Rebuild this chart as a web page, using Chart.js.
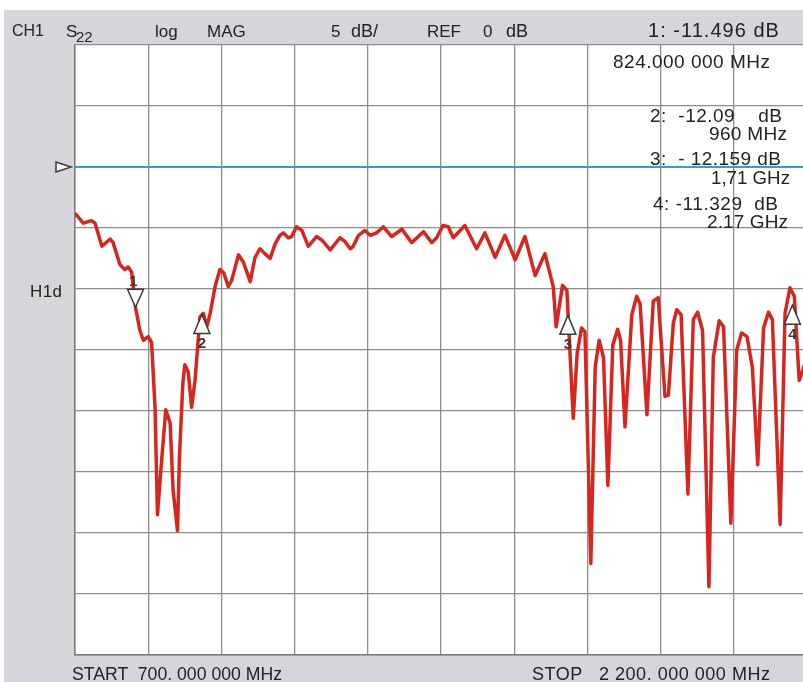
<!DOCTYPE html>
<html>
<head>
<meta charset="utf-8">
<title>S22 log MAG</title>
<script src="https://cdn.jsdelivr.net/npm/chart.js@4.4.1/dist/chart.umd.min.js"></script>
<style>
  html, body { margin: 0; padding: 0; background: #fff; overflow: hidden; width: 803px; height: 682px; }
  #panel { position: absolute; left: 4px; top: 10px; width: 810px; height: 672px; background: #d8d5da; }
  #wrap { position: absolute; left: 0; top: 0; width: 812px; height: 682px; }
  .lbl { position: absolute; font-family: "Liberation Sans", Arial, sans-serif; color: #222;
         white-space: pre; line-height: 1; transform-origin: 0 0; }
</style>
</head>
<body>
<div id="panel"></div>
<div id="wrap"><canvas id="grafico" width="812" height="682"></canvas></div>
<div id="labels"></div>
<script>
// Barrido: frecuencia (MHz) y S22 (dB)
const freqMHz = [700, 717, 734, 741, 755, 772, 778, 792, 802, 809, 816, 824, 833, 840, 850, 857,
  864, 869, 878, 886, 895, 901, 910, 914, 921, 925, 932, 939, 946, 956, 963, 970, 977, 987, 997,
  1005, 1014, 1021, 1035, 1045, 1059, 1069, 1079, 1089, 1100, 1110, 1120, 1127, 1137, 1144, 1154,
  1165, 1178, 1195, 1206, 1223, 1243, 1253, 1264, 1270, 1281, 1294, 1305, 1318, 1332, 1349, 1370,
  1390, 1414, 1431, 1441, 1454, 1465, 1475, 1499, 1523, 1540, 1561, 1581, 1602, 1622, 1643, 1663,
  1680, 1686, 1699, 1708, 1721, 1729, 1738, 1745, 1757, 1766, 1774, 1783, 1792, 1802, 1812, 1818,
  1827, 1841, 1851, 1858, 1872, 1885, 1895, 1909, 1916, 1926, 1933, 1942, 1956, 1967, 1976, 1986,
  1999, 2008, 2020, 2029, 2044, 2056, 2066, 2077, 2088, 2099, 2111, 2121, 2129, 2145, 2155, 2165,
  2174, 2184, 2192, 2200];
const s22dB = [-3.8, -4.6, -4.4, -4.6, -6.5, -5.9, -6.2, -8.0, -8.4, -8.2, -8.6, -11.5, -13.4, -14.2, -13.9, -14.4,
  -19.7, -28.5, -23.8, -19.9, -21.0, -26.5, -29.8, -23.8, -17.7, -16.2, -16.8, -19.7, -17.5, -12.3, -12.0, -13.1, -12.0, -9.8, -8.4,
  -8.7, -9.8, -9.3, -7.2, -7.8, -9.4, -7.4, -6.7, -7.1, -7.5, -6.3, -5.6, -5.4, -5.8, -5.7, -4.9,
  -5.2, -6.5, -5.7, -6.0, -6.8, -5.8, -6.1, -6.7, -6.5, -5.6, -5.2, -5.6, -5.4, -4.9, -5.7, -5.1,
  -6.2, -5.3, -6.2, -5.8, -4.8, -4.9, -5.8, -4.8, -6.7, -5.4, -7.4, -5.6, -7.6, -5.7, -8.9, -7.1,
  -9.8, -13.1, -9.7, -10.1, -20.6, -15.3, -13.2, -13.5, -32.5, -16.4, -14.2, -15.6, -26.1, -14.6, -13.3, -14.2,
  -21.3, -12.1, -10.6, -11.2, -20.3, -11.0, -10.7, -18.8, -18.7, -12.8, -11.7, -12.1, -26.8, -12.5, -11.9, -13.4,
  -34.4, -15.6, -12.6, -13.1, -29.2, -15.0, -13.6, -13.9, -16.4, -24.4, -13.2, -11.9, -12.5, -29.3, -12.0, -9.9,
  -10.6, -17.5, -16.6, -15.5];

// Marcadores
const markerNum = ['1', '2', '3', '4'];
const markerFreqMHz = [824, 960, 1710, 2170];
const markerDb = [-11.496, -12.09, -12.159, -11.329];

// Escala: START/STOP, REF y dB/div
const startMHz = 700;
const stopMHz = 2200;
const refDb = 0;
const dbPerDiv = 5;
const topDb = 10;
const bottomDb = -40;

// Textos de pantalla: [texto, x, linea base, tamaño, ancho]
const labels = [
  ['CH1', 12, 37, 16],
  ['S', 66, 37, 17],
  ['22', 76, 42, 15],
  ['log', 155, 37, 17],
  ['MAG', 207, 37, 17],
  ['5', 331, 37, 17],
  ['dB/', 351, 37, 18],
  ['REF', 427, 37, 17],
  ['0', 483, 37, 17],
  ['dB', 506, 37, 18],
  ['1: -11.496 dB', 648, 37, 20, 131],
  ['824.000 000 MHz', 613, 68, 19, 157],
  ['2:  -12.09    dB', 650, 122, 19, 132],
  ['960 MHz', 709, 140, 19, 78],
  ['3:  - 12.159 dB', 650, 165, 19, 131],
  ['1,71 GHz', 711, 184, 19, 79],
  ['4: -11.329  dB', 653, 210, 19, 125],
  ['2.17 GHz', 707, 228, 19, 81],
  ['H1d', 30, 297, 17, 32],
  ['START  700. 000 000 MHz', 72, 680, 18, 210],
  ['STOP   2 200. 000 000 MHz', 532, 680, 18, 238]
];

// Ajuste al ancho: espaciado si falta, compresion si sobra
const box = document.getElementById('labels');
labels.forEach(l => {
  const d = document.createElement('div');
  d.className = 'lbl';
  d.textContent = l[0];
  d.style.fontSize = l[3] + 'px';
  d.style.left = l[1] + 'px';
  d.style.top = (l[2] - l[3] * 0.8465) + 'px';
  box.appendChild(d);
  if (l[4]) {
    const w = d.getBoundingClientRect().width;
    if (w < l[4]) {
      const n = Math.max(1, l[0].length - 1);
      d.style.letterSpacing = ((l[4] - w) / n).toFixed(2) + 'px';
    } else {
      d.style.transform = 'scaleX(' + (l[4] / w).toFixed(3) + ')';
    }
  }
});

// Fondo blanco, triangulo REF y marcadores
const screenPlugin = {
  id: 'screen',
  beforeDraw(chart) {
    const a = chart.chartArea;
    const c = chart.ctx;
    c.save();
    c.fillStyle = '#ffffff';
    c.fillRect(a.left, a.top, a.right - a.left, a.bottom - a.top);
    c.restore();
  },
  afterDatasetsDraw(chart) {
    const c = chart.ctx;
    const xs = chart.scales.x;
    const ys = chart.scales.y;
    c.save();
    c.strokeStyle = '#3a3a3a';
    c.fillStyle = '#ffffff';
    c.lineWidth = 1.5;

    // triangulo de referencia a la izquierda
    const ry = ys.getPixelForValue(refDb);
    const rx = chart.chartArea.left - 4;
    c.beginPath();
    c.moveTo(rx, ry);
    c.lineTo(rx - 15, ry - 5);
    c.lineTo(rx - 15, ry + 5);
    c.closePath();
    c.fill();
    c.stroke();

    c.font = 'bold 15px "Liberation Sans", Arial, sans-serif';
    c.textAlign = 'center';
    markerFreqMHz.forEach((f, i) => {
      const px = xs.getPixelForValue(f);
      const py = ys.getPixelForValue(markerDb[i]);
      c.beginPath();
      if (i === 0) {
        c.moveTo(px, py);
        c.lineTo(px - 8, py - 18);
        c.lineTo(px + 8, py - 18);
      } else {
        c.moveTo(px, py);
        c.lineTo(px - 8, py + 19);
        c.lineTo(px + 8, py + 19);
      }
      c.closePath();
      c.fillStyle = '#ffffff';
      c.fill();
      c.stroke();
      c.fillStyle = '#3a3a3a';
      if (i === 0) c.fillText(markerNum[i], px - 2, py - 21);
      else c.fillText(markerNum[i], px, py + 34);
    });
    c.restore();
  }
};

const gridStyle = { color: '#8d8d8d', lineWidth: 1.3, drawTicks: false };
const borderStyle = { color: '#7c7c7c', width: 1.5 };

const ctx = document.getElementById('grafico').getContext('2d');
new Chart(ctx, {
  type: 'line',
  data: {
    datasets: [
      {
        label: 'REF',
        data: [{ x: startMHz, y: refDb }, { x: stopMHz, y: refDb }],
        borderColor: '#2f9fd8',
        borderWidth: 2,
        pointRadius: 0
      },
      {
        label: 'S22',
        data: freqMHz.map((f, i) => ({ x: f, y: s22dB[i] })),
        borderColor: '#d6261f',
        borderWidth: 3.5,
        borderJoinStyle: 'round',
        pointRadius: 0,
        tension: 0
      }
    ]
  },
  options: {
    responsive: false,
    animation: false,
    devicePixelRatio: 1,
    layout: { padding: { left: 75, top: 45, right: 5, bottom: 27 } },
    plugins: { legend: { display: false }, tooltip: { enabled: false } },
    scales: {
      x: {
        type: 'linear', min: startMHz, max: stopMHz,
        ticks: { display: false, stepSize: (stopMHz - startMHz) / 10 },
        grid: gridStyle, border: borderStyle
      },
      y: {
        type: 'linear', min: bottomDb, max: topDb,
        ticks: { display: false, stepSize: dbPerDiv },
        grid: gridStyle, border: borderStyle
      }
    }
  },
  plugins: [screenPlugin]
});
</script>
</body>
</html>
